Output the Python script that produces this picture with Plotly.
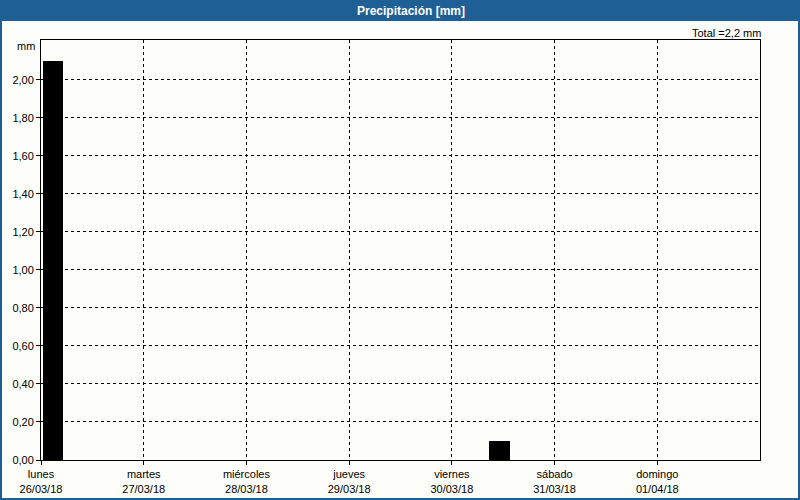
import plotly.graph_objects as go

# Data
bar_times = ["2018-03-26 02:48", "2018-03-30 11:09"]
bar_values = [2.1, 0.1]
day_ticks = ["2018-03-26", "2018-03-27", "2018-03-28", "2018-03-29",
             "2018-03-30", "2018-03-31", "2018-04-01"]
day_names = ["lunes", "martes", "miércoles", "jueves", "viernes", "sábado", "domingo"]
day_dates = ["26/03/18", "27/03/18", "28/03/18", "29/03/18", "30/03/18", "31/03/18", "01/04/18"]
y_ticks = [0, 0.2, 0.4, 0.6, 0.8, 1.0, 1.2, 1.4, 1.6, 1.8, 2.0]
total_text = "Total =2,2 mm"
title_text = "Precipitación [mm]"

W, H = 800, 500
L, R, T, B = 41, 40, 40, 40
pw, ph = W - L - R, H - T - B

def px(xp):
    return (xp - L) / pw

def py(yp):
    return (H - B - yp) / ph

FONT = "Liberation Sans, Arial, sans-serif"
BLUE = "#1e6096"
BG = "#fdfdf9"

fig = go.Figure()
fig.add_trace(go.Bar(
    x=bar_times, y=bar_values,
    width=4.8 * 3600 * 1000,
    marker=dict(color="black", line=dict(width=0)),
    showlegend=False,
))

fig.update_layout(
    width=W, height=H, autosize=False,
    margin=dict(l=L, r=R, t=T, b=B, pad=0, autoexpand=False),
    paper_bgcolor=BG, plot_bgcolor=BG,
    separators=",.",
    font=dict(family=FONT, size=11, color="black"),
    bargap=0,
    hovermode=False,
)

fig.update_xaxes(
    type="date",
    range=["2018-03-26 00:00", "2018-04-02 00:00"],
    tickmode="array",
    tickvals=day_ticks,
    ticktext=[f"{n}<br>{d}" for n, d in zip(day_names, day_dates)],
    ticks="outside", ticklen=4, tickcolor="black", tickwidth=1,
    showline=True, linecolor="black", linewidth=1, mirror=True,
    showgrid=True, gridcolor="black", gridwidth=1, griddash="3px,3px",
    zeroline=False, automargin=False,
    tickfont=dict(family=FONT, size=11, color="black"),
)
fig.update_yaxes(
    range=[0, 2.21],
    tickmode="array",
    tickvals=y_ticks,
    tickformat=".2f",
    ticks="outside", ticklen=4, tickcolor="black", tickwidth=1,
    showline=True, linecolor="black", linewidth=1, mirror=True,
    showgrid=True, gridcolor="black", gridwidth=1, griddash="3px,3px",
    zeroline=False, automargin=False,
    tickfont=dict(family=FONT, size=11, color="black"),
)

shapes = [
    # title bar
    dict(type="rect", xref="paper", yref="paper",
         x0=px(0), x1=px(W), y0=py(21), y1=py(0),
         fillcolor=BLUE, line=dict(width=0), layer="above"),
    # outer border
    dict(type="rect", xref="paper", yref="paper",
         x0=px(1), x1=px(W - 1), y0=py(H - 1), y1=py(1),
         fillcolor="rgba(0,0,0,0)", line=dict(color=BLUE, width=2), layer="above"),
]
fig.update_layout(shapes=shapes)

fig.add_annotation(x=px(411), y=py(11), xref="paper", yref="paper",
                   text=f"<b>{title_text}</b>", showarrow=False,
                   font=dict(family=FONT, size=12, color="white"),
                   xanchor="center", yanchor="middle")
fig.add_annotation(x=px(763), y=py(33), xref="paper", yref="paper",
                   text=total_text, showarrow=False,
                   font=dict(family=FONT, size=11, color="black"),
                   xanchor="right", yanchor="middle")
fig.add_annotation(x=px(37), y=py(46), xref="paper", yref="paper",
                   text="mm", showarrow=False,
                   font=dict(family=FONT, size=11, color="black"),
                   xanchor="right", yanchor="middle")

fig.write_html("out.html",
               config={"responsive": False, "displayModeBar": False, "staticPlot": True},
               post_script="document.body.style.margin='0';document.body.style.overflow='hidden';")
